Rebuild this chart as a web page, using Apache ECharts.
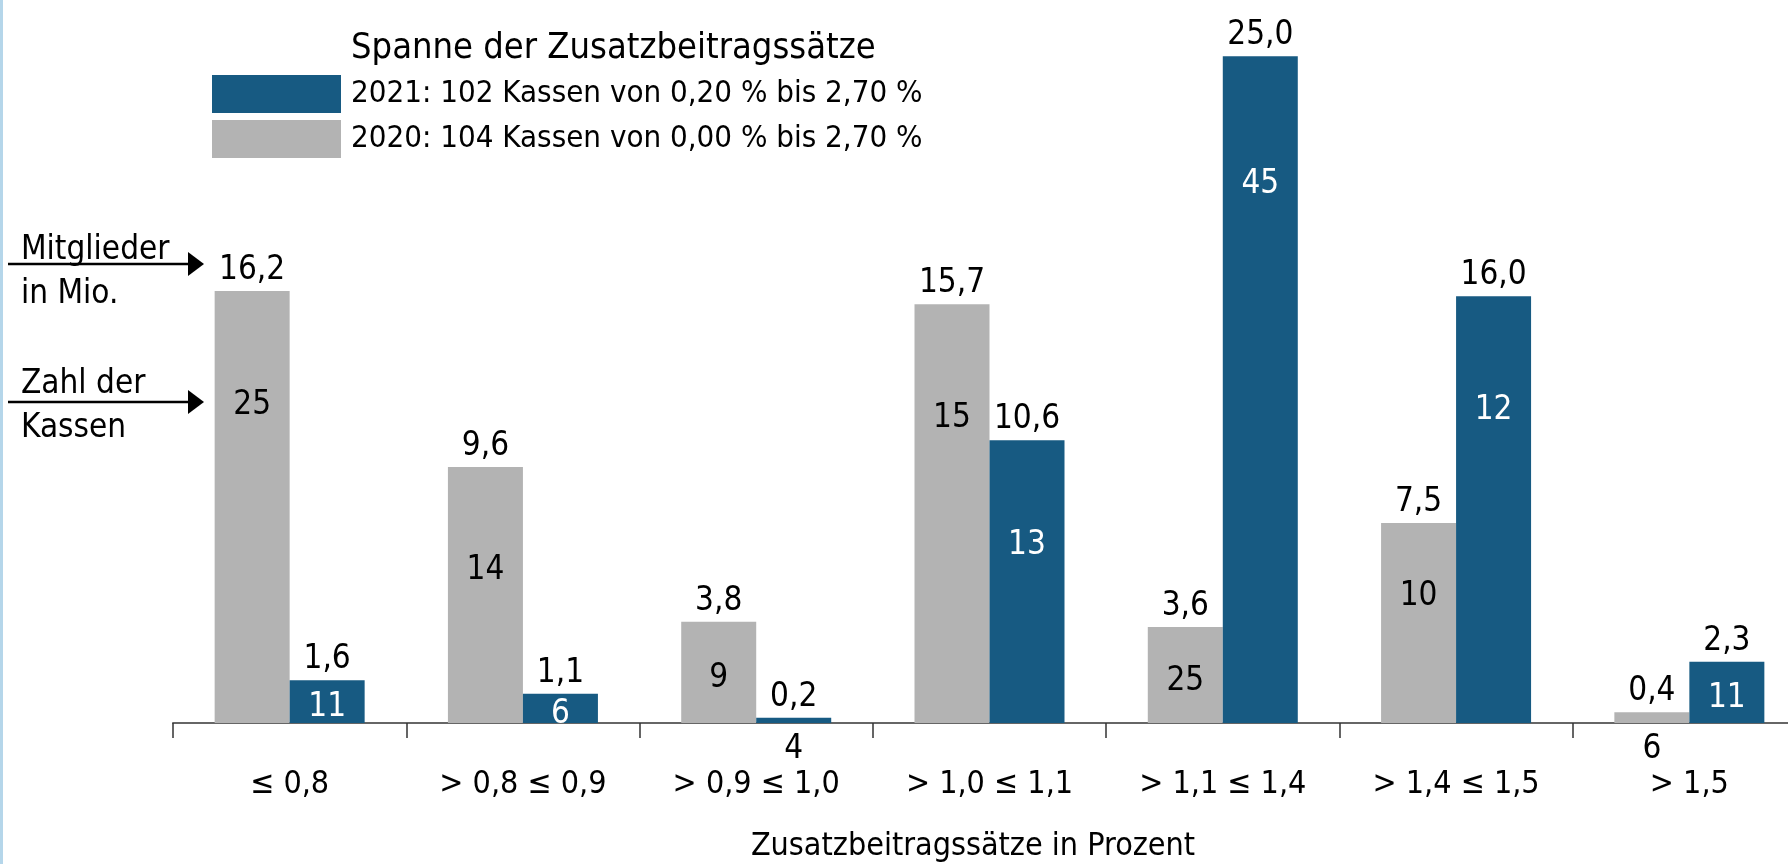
<!DOCTYPE html>
<html>
<head>
<meta charset="utf-8">
<script src="https://cdn.jsdelivr.net/npm/echarts@6/dist/echarts.min.js"></script>
<style>
  html, body { margin: 0; padding: 0; background: #fff; }
  #chart { width: 1788px; height: 864px; }
</style>
</head>
<body>
<div id="chart"></div>
<script>
// Zusatzbeitragssätze: Mitglieder (Mio.) und Zahl der Kassen je Spanne
const categories = ['≤ 0,8', '> 0,8 ≤ 0,9', '> 0,9 ≤ 1,0', '> 1,0 ≤ 1,1', '> 1,1 ≤ 1,4', '> 1,4 ≤ 1,5', '> 1,5'];
const mitglieder2020 = [16.2, 9.6, 3.8, 15.7, 3.6, 7.5, 0.4];
const mitglieder2021 = [1.6, 1.1, 0.2, 10.6, 25.0, 16.0, 2.3];
const kassen2020 = [25, 14, 9, 15, 25, 10, 6];
const kassen2021 = [11, 6, 4, 13, 45, 12, 11];
const name2021 = '2021: 102 Kassen von 0,20 % bis 2,70 %';
const name2020 = '2020: 104 Kassen von 0,00 % bis 2,70 %';

const FONT = '"DejaVu Sans Condensed", "Liberation Sans Narrow", sans-serif';
const BLUE = '#175a82';
const GREY = '#b3b3b3';
const Y_MAX = 27;
const PLOT_H = 720;

const fmt = v => v.toFixed(1).replace('.', ',');

// Lage der Kassen-Zahl im Balken, je nach Balkenhöhe
function countLabel(value, color) {
  const h = value / Y_MAX * PLOT_H;
  if (value < 0.5) return { position: 'bottom', distance: 10, color: '#000' };
  if (value >= 9) return { position: 'insideTop', distance: 72 + 0.06 * h, color };
  if (value >= 5) return { position: 'insideTop', distance: 57, color };
  return { position: 'inside', offset: [0, 6], color };
}

function countSeries(name, vals, counts, color) {
  return {
    name: name + ' Kassen',
    type: 'bar',
    xAxisIndex: 1,
    barWidth: 75,
    barGap: '0%',
    silent: true,
    z: 5,
    itemStyle: { color: 'rgba(0,0,0,0)' },
    data: vals.map((v, i) => ({
      value: v,
      label: Object.assign({ show: true, formatter: String(counts[i]) }, countLabel(v, color))
    })),
    label: { fontFamily: FONT, fontSize: 33 }
  };
}

function arrow(y) {
  return [
    { type: 'line', shape: { x1: 8, y1: y, x2: 192, y2: y }, style: { stroke: '#000', lineWidth: 2.5 } },
    { type: 'polygon', shape: { points: [[188, y - 12], [204, y], [188, y + 12]] }, style: { fill: '#000' } }
  ];
}

const topLabel = {
  show: true, position: 'top', distance: 4,
  fontFamily: FONT, fontSize: 33, color: '#000',
  formatter: p => fmt(p.value)
};

const chart = echarts.init(document.getElementById('chart'));
chart.setOption({
  backgroundColor: '#fff',
  animation: false,
  grid: { left: 173, width: 1633, top: 3, height: PLOT_H, outerBoundsMode: 'none', containLabel: false },
  legend: {
    orient: 'vertical',
    left: 212, top: 75,
    padding: 0,
    itemWidth: 129, itemHeight: 38, itemGap: 7,
    icon: 'rect',
    data: [name2021, name2020],
    textStyle: { fontFamily: FONT, fontSize: 31, color: '#000', padding: [0, 0, 0, 5] }
  },
  xAxis: [{
    type: 'category',
    data: categories,
    axisLine: { lineStyle: { color: '#666', width: 2 } },
    axisTick: { show: true, interval: 0, length: 15, lineStyle: { color: '#333', width: 1.5 } },
    axisLabel: { interval: 0, margin: 46, fontFamily: FONT, fontSize: 32, color: '#000' }
  }, {
    type: 'category',
    data: categories,
    show: false
  }],
  yAxis: { type: 'value', min: 0, max: Y_MAX, show: false },
  series: [{
    name: name2020,
    type: 'bar',
    barWidth: 75,
    barGap: '0%',
    itemStyle: { color: GREY },
    label: topLabel,
    data: mitglieder2020
  }, {
    name: name2021,
    type: 'bar',
    barWidth: 75,
    itemStyle: { color: BLUE },
    label: topLabel,
    data: mitglieder2021
  },
    countSeries('2020', mitglieder2020, kassen2020, '#000'),
    countSeries('2021', mitglieder2021, kassen2021, '#fff')
  ],
  graphic: [
    { type: 'rect', shape: { x: 0, y: 0, width: 3, height: 864 }, style: { fill: '#b5d6ea' } },
    { type: 'text', left: 351, top: 31, style: { text: 'Spanne der Zusatzbeitragssätze', font: '36px ' + FONT, fill: '#000' } },
    { type: 'text', left: 21, top: 228, style: { text: 'Mitglieder\nin Mio.', font: '33px ' + FONT, lineHeight: 44, fill: '#000' } },
    { type: 'text', left: 21, top: 362, style: { text: 'Zahl der\nKassen', font: '33px ' + FONT, lineHeight: 44, fill: '#000' } },
    ...arrow(264),
    ...arrow(402),
    { type: 'text', x: 973, y: 847, style: { text: 'Zusatzbeitragssätze in Prozent', font: '32px ' + FONT, fill: '#000', align: 'center', verticalAlign: 'middle' } }
  ]
});
</script>
</body>
</html>
